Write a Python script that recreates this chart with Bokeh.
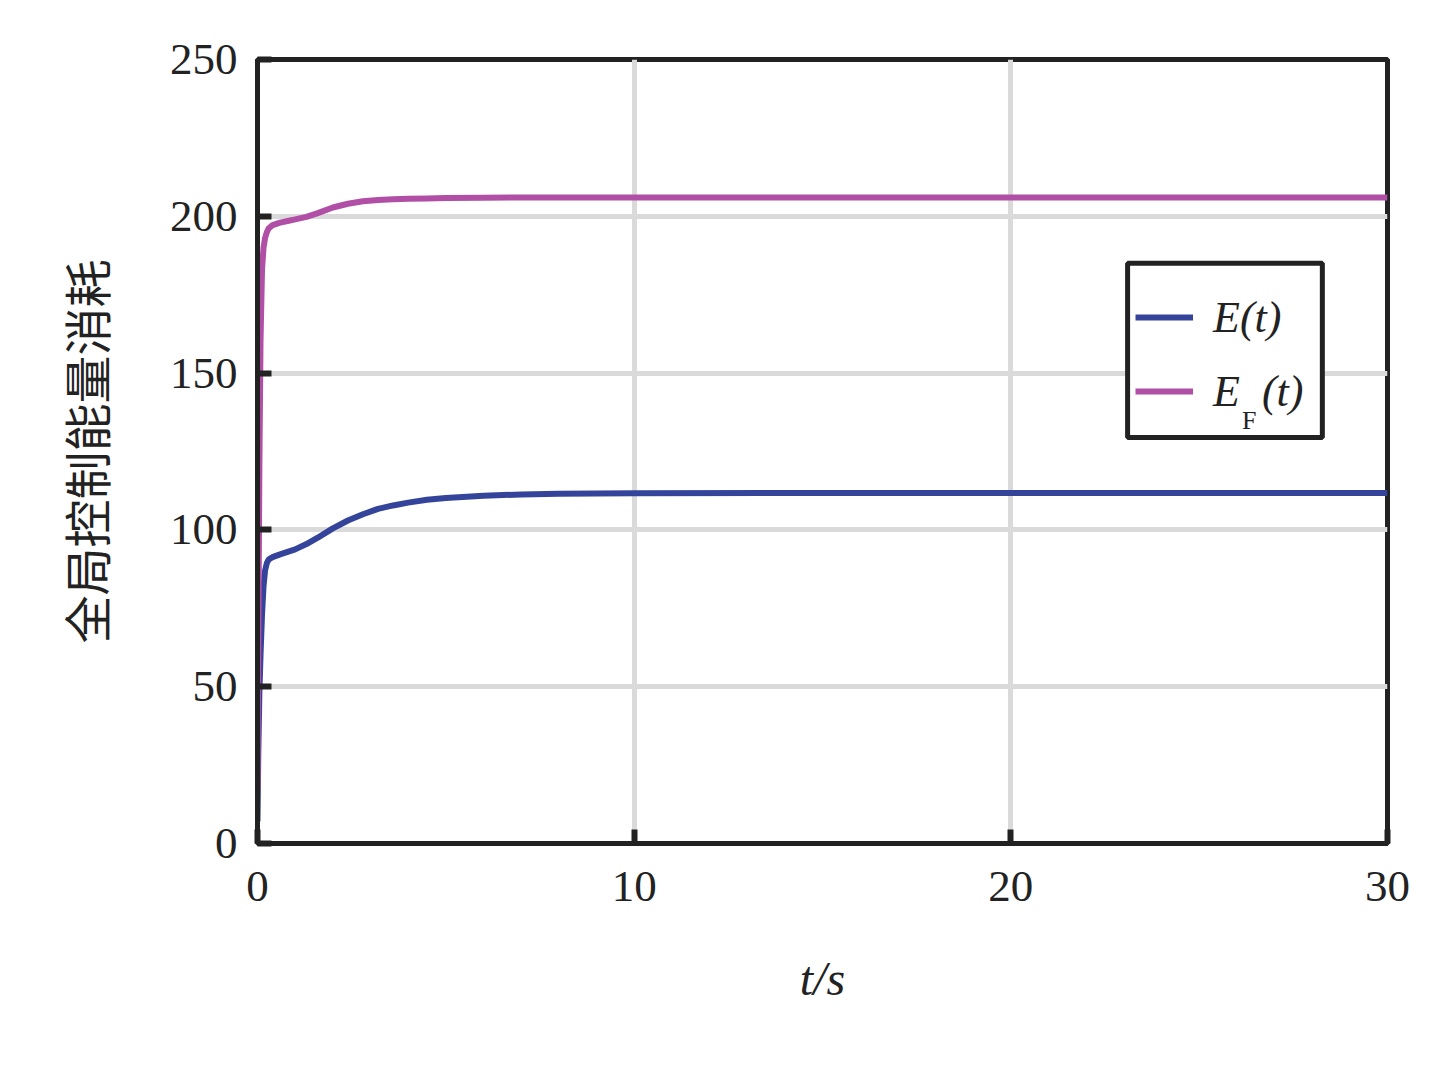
from bokeh.plotting import figure
from bokeh.models import Range1d, Legend, LegendItem, Label, FixedTicker, BoxAnnotation
from bokeh.embed import file_html
from bokeh.resources import INLINE

# ---- data ----
t = [0, 0.02, 0.05, 0.08, 0.12, 0.16, 0.2, 0.25, 0.3, 0.4, 0.6, 0.8, 1.0, 1.3, 1.6,
     2.0, 2.4, 2.8, 3.2, 3.6, 4.0, 4.5, 5.0, 6.0, 7.0, 8.0, 10, 15, 20, 25, 30]
E = [7, 28, 48, 60, 73, 82, 87, 89.5, 90.6, 91.3, 92.2, 93, 93.8, 95.5, 97.5,
     100.5, 103, 105, 106.7, 107.8, 108.7, 109.6, 110.2, 110.9, 111.3, 111.5, 111.7,
     111.8, 111.8, 111.8, 111.8]
EF = [17, 60, 120, 160, 183, 190, 193, 195, 196.2, 197.2, 198, 198.5, 199, 199.8, 201,
      202.8, 204, 204.8, 205.2, 205.4, 205.6, 205.7, 205.8, 205.9, 206, 206, 206,
      206, 206, 206, 206]
x_ticks = [0, 10, 20, 30]
y_ticks = [0, 50, 100, 150, 200, 250]
x_label = "t/s"
y_label = "全局控制能量消耗"
series_labels = ["E(t)", "E  (t)"]
subscript = "F"

SERIF = "Liberation Serif"
TXT = "#222222"

p = figure(width=1430, height=1050, x_range=Range1d(0, 30), y_range=Range1d(0, 250),
           output_backend="svg", toolbar_location=None,
           min_border_left=257, min_border_right=43, min_border_top=59,
           min_border_bottom=207)
p.background_fill_color = "white"
p.border_fill_color = "white"
p.outline_line_color = "#222222"
p.outline_line_width = 5
p.outline_line_alpha = 1

p.xaxis.ticker = FixedTicker(ticks=x_ticks)
p.yaxis.ticker = FixedTicker(ticks=y_ticks)
for ax in (p.xaxis[0], p.yaxis[0]):
    ax.axis_line_color = "#222222"
    ax.axis_line_width = 5
    ax.major_tick_in = 14
    ax.major_tick_out = 0
    ax.major_tick_line_width = 6
    ax.major_tick_line_color = "#222222"
    ax.minor_tick_line_color = None
    ax.major_label_text_font = SERIF
    ax.major_label_text_font_size = "45px"
    ax.major_label_text_color = TXT
p.xaxis.major_label_standoff = 28
p.yaxis.major_label_standoff = 20

p.xaxis.axis_label = x_label
p.xaxis.axis_label_text_font = SERIF
p.xaxis.axis_label_text_font_size = "48px"
p.xaxis.axis_label_text_font_style = "italic"
p.xaxis.axis_label_text_color = TXT
p.xaxis.axis_label_standoff = 48

p.yaxis.axis_label = y_label
p.yaxis.axis_label_text_font = "Noto Sans CJK SC"
p.yaxis.axis_label_text_font_size = "48px"
p.yaxis.axis_label_text_font_style = "normal"
p.yaxis.axis_label_text_color = TXT
p.yaxis.axis_label_standoff = 47

for g in (p.xgrid[0], p.ygrid[0]):
    g.grid_line_color = "#dadada"
    g.grid_line_width = 5

r1 = p.line(t, E, line_color="#34449a", line_width=6)
r2 = p.line(t, EF, line_color="#b04fa5", line_width=6)

# legend frame (white box with black border)
p.add_layout(BoxAnnotation(left=23.1, right=28.27, bottom=129.5, top=185.0,
                           fill_color="white", fill_alpha=1,
                           line_color="#222222", line_width=5, line_alpha=1))

legend = Legend(items=[LegendItem(label=series_labels[0], renderers=[r1]),
                       LegendItem(label=series_labels[1], renderers=[r2])],
                location=(878, 422))
legend.border_line_color = None
legend.background_fill_alpha = 0
legend.label_text_font = SERIF
legend.label_text_font_style = "italic"
legend.label_text_font_size = "44px"
legend.label_text_color = TXT
legend.glyph_width = 58
legend.glyph_height = 60
legend.label_height = 60
legend.label_standoff = 20
legend.spacing = 14
legend.padding = 0
legend.margin = 0
p.add_layout(legend)

# subscript F of E_F(t)
p.add_layout(Label(x=26.14, y=135.0, text=subscript, text_align="left",
                   text_baseline="alphabetic", text_font=SERIF, text_font_size="26px",
                   text_color=TXT, level="overlay"))

open("out.html", "w").write(file_html(p, INLINE))
